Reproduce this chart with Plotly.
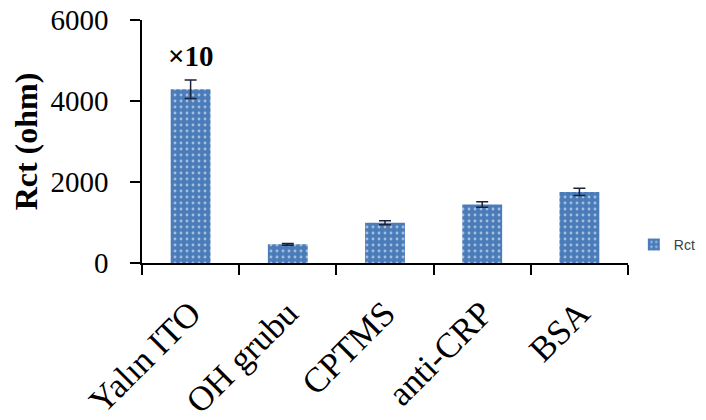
import plotly.graph_objects as go

categories = ["Yalın ITO", "OH grubu", "CPTMS", "anti-CRP", "BSA"]
rct_values = [4290, 460, 995, 1445, 1755]
rct_errors = [230, 20, 50, 70, 90]
y_ticks = [0, 2000, 4000, 6000]
series_name = "Rct"
note_text = "×10"

serif = "Liberation Serif"

fig = go.Figure()
fig.add_trace(go.Bar(
    x=categories,
    y=rct_values,
    name=series_name,
    marker=dict(
        color="#4a7cba",
        line=dict(width=0),
        pattern=dict(shape=".", fgcolor="white", bgcolor="#4a7cba",
                     size=6, solidity=0.18, fillmode="overlay"),
    ),
    error_y=dict(type="data", array=rct_errors, visible=True,
                 color="#1a2238", thickness=1.5, width=6),
    width=0.41,
))

fig.add_annotation(x=categories[0], y=rct_values[0] + rct_errors[0],
                   text="<b>" + note_text + "</b>", showarrow=False,
                   yshift=24, font=dict(family=serif, size=29, color="black"))

fig.update_layout(
    width=698, height=412,
    margin=dict(l=134, r=78, t=12, b=157, autoexpand=False),
    plot_bgcolor="white", paper_bgcolor="white",
    showlegend=True,
    legend=dict(x=1.012, y=0.075, xanchor="left", yanchor="middle",
                font=dict(family="Liberation Sans", size=14, color="#404040"),
                itemwidth=30, bgcolor="rgba(0,0,0,0)"),
    bargap=0.59,
)
fig.update_xaxes(
    showline=True, linecolor="black", linewidth=1.5,
    ticks="outside", ticklen=10, tickwidth=1.5, tickcolor="black",
    tickson="boundaries", tickangle=-45,
    tickfont=dict(family=serif, size=35, color="black"),
    ticklabelstandoff=14,
    showgrid=False, zeroline=False,
)
fig.update_yaxes(
    range=[0, 6000], tickvals=y_ticks,
    showline=True, linecolor="black", linewidth=1.5,
    ticks="outside", ticklen=10, tickwidth=1.5, tickcolor="black",
    tickfont=dict(family=serif, size=29, color="black"),
    ticklabelstandoff=16, ticklabeloverflow="allow",
    showgrid=False, zeroline=False,
    title=dict(text="<b>Rct (ohm)</b>", font=dict(family=serif, size=32, color="black"), standoff=8),
)

fig.write_html("out.html")
